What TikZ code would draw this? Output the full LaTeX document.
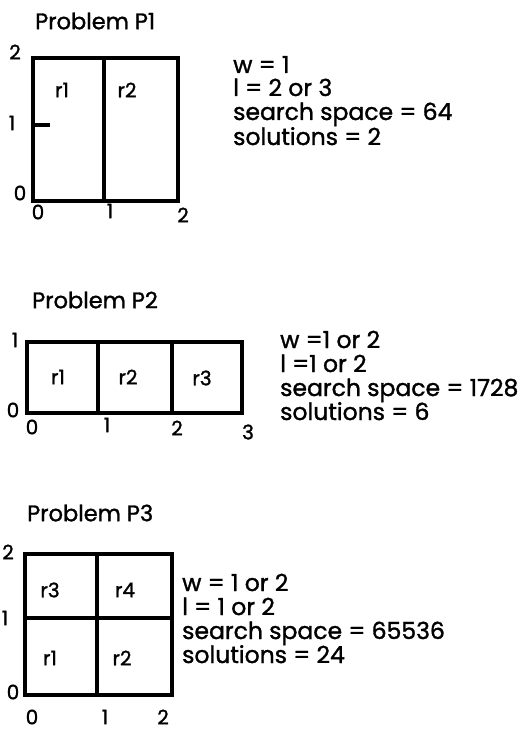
\documentclass[tikz,border=0pt]{standalone}
\usepackage{fontspec}
\setmainfont{Poppins}[FakeBold=1.3]
\begin{document}
\begin{tikzpicture}[x=1pt,y=-1pt,
  box/.style={draw=black,line width=3.2pt,line join=miter},
  lbl/.style={inner sep=0pt,font=\fontsize{20}{20}\selectfont},
  ttl/.style={inner sep=0pt,anchor=west,font=\fontsize{22.5}{22.5}\selectfont},
  info/.style={inner sep=0pt,anchor=base west,font=\fontsize{23.5}{23.5}\selectfont}]
\useasboundingbox (0,0) rectangle (527,730);
% ---------- Problem P1
\node[ttl] (t1) at (35,21) {Problem P1};
\coordinate (a1) at (33,58);
\coordinate (b1) at (178,201);
\draw[box] (a1) rectangle (b1);
\coordinate (m1t) at (104,58);
\coordinate (m1b) at (104,201);
\draw[box] (m1t) -- (m1b);
\coordinate (k1a) at (33,125);
\coordinate (k1b) at (50,125);
\draw[box] (k1a) -- (k1b);
\node[lbl] (r11) at (62,90) {r1};
\node[lbl] (r12) at (127,90) {r2};
\node[lbl] (y12) at (15,52) {2};
\node[lbl] (y11) at (12,123) {1};
\node[lbl] (y10) at (20,193) {0};
\node[lbl] (x10) at (38,212) {0};
\node[lbl] (x11) at (110,211) {1};
\node[lbl] (x12) at (183,215) {2};
\node[info] (i1a) at (233,73) {w = 1};
\node[info] (i1b) at (233,96) {l = 2 or 3};
\node[info] (i1c) at (233,120) {search space = 64};
\node[info] (i1d) at (233,145) {solutions = 2};
% ---------- Problem P2
\node[ttl] (t2) at (32,300) {Problem P2};
\coordinate (a2) at (27,342);
\coordinate (b2) at (242,413);
\draw[box] (a2) rectangle (b2);
\coordinate (m2a) at (98,342);
\coordinate (m2b) at (98,413);
\draw[box] (m2a) -- (m2b);
\coordinate (m2c) at (172,342);
\coordinate (m2d) at (172,413);
\draw[box] (m2c) -- (m2d);
\node[lbl] (r21) at (58,377) {r1};
\node[lbl] (r22) at (128,377) {r2};
\node[lbl] (r23) at (202,378) {r3};
\node[lbl] (y21) at (15,340) {1};
\node[lbl] (y20) at (13,410) {0};
\node[lbl] (x20) at (32,427) {0};
\node[lbl] (x21) at (107,425) {1};
\node[lbl] (x22) at (177,428) {2};
\node[lbl] (x23) at (248,432) {3};
\node[info] (i2a) at (280,348) {w =1 or 2};
\node[info] (i2b) at (280,372) {l =1 or 2};
\node[info] (i2c) at (280,396) {search space = 1728};
\node[info] (i2d) at (280,420) {solutions = 6};
% ---------- Problem P3
\node[ttl] (t3) at (27,513) {Problem P3};
\coordinate (a3) at (25,554);
\coordinate (b3) at (172,695);
\draw[box] (a3) rectangle (b3);
\coordinate (m3a) at (97,554);
\coordinate (m3b) at (97,695);
\draw[box] (m3a) -- (m3b);
\coordinate (m3c) at (25,618);
\coordinate (m3d) at (172,618);
\draw[box] (m3c) -- (m3d);
\node[lbl] (r33) at (50,590) {r3};
\node[lbl] (r34) at (125,590) {r4};
\node[lbl] (r31) at (50,658) {r1};
\node[lbl] (r32) at (122,658) {r2};
\node[lbl] (y32) at (8,552) {2};
\node[lbl] (y31) at (5,618) {1};
\node[lbl] (y30) at (13,692) {0};
\node[lbl] (x30) at (32,717) {0};
\node[lbl] (x31) at (105,717) {1};
\node[lbl] (x32) at (163,717) {2};
\node[info] (i3a) at (182,591) {w = 1 or 2};
\node[info] (i3b) at (182,615) {l = 1 or 2};
\node[info] (i3c) at (182,639) {search space = 65536};
\node[info] (i3d) at (182,663) {solutions = 24};
\end{tikzpicture}
\end{document}
